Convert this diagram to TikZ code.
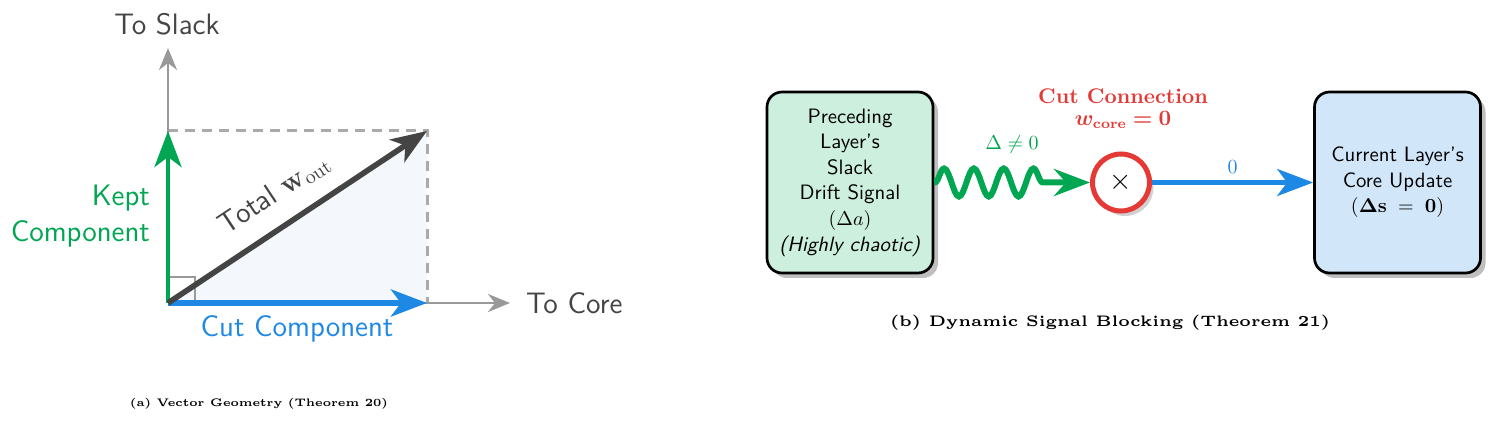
\documentclass[tikz,border=0pt]{standalone}
\usepackage{amsmath,bm}
\usetikzlibrary{arrows.meta,decorations.pathmorphing,shadows}
\definecolor{cgreen}{HTML}{00A651}
\definecolor{cblue}{HTML}{1E88E5}
\definecolor{cred}{HTML}{E53935}
\definecolor{cdark}{HTML}{444444}
\definecolor{caxis}{HTML}{999999}
\definecolor{cdash}{HTML}{AAAAAA}
\definecolor{cmint}{HTML}{CDEFDE}
\definecolor{clblue}{HTML}{D2E6F9}
\definecolor{ctri}{HTML}{F4F8FD}
\begin{document}
\begin{tikzpicture}[x=0.5pt,y=-0.5pt,
  bigtip/.style={-{Stealth[length=18pt,width=13.5pt,inset=5pt]}},
  axisline/.style={caxis,line width=1.4pt,-{Stealth[length=11pt,width=9pt,inset=3.5pt]}},
  guide/.style={cdash,line width=1.5pt,dash pattern=on 5pt off 3.5pt},
  lbl/.style={font=\fontsize{14.8}{18}\selectfont\sffamily},
  boxtxt/.style={font=\fontsize{10.4}{12.8}\selectfont\sffamily,align=center},
  card/.style={draw=black,line width=1.35pt,rounded corners=7.5pt,minimum width=83pt,minimum height=90.5pt,
    drop shadow={shadow xshift=2.5pt,shadow yshift=-2.5pt,fill=black!25,opacity=1}},
  capnode/.style={inner sep=0pt}
]
\useasboundingbox (0,0) rectangle (1499,422);
% ---------- (a) vector geometry ----------
\coordinate (O) at (168,303);
\coordinate (Ytip) at (168,48);
\coordinate (Xtip) at (510,303);
\coordinate (K) at (168,131);
\coordinate (C) at (427,303);
\coordinate (T) at (427,131);
\fill[ctri] (O) -- (C) -- (T) -- cycle;
\draw[blue!8,line width=0.4pt] (O) -- (T);
\draw[guide] (K) -- (T) -- (C);
\draw[axisline] (O) -- (Ytip);
\draw[axisline] (O) -- (Xtip);
\draw[caxis,line width=1.3pt] (168,277) -- (195,277) -- (195,303);
\draw[cblue,line width=3pt,bigtip] (O) -- (C);
\draw[cgreen,line width=2.4pt,bigtip] (O) -- (K);
\draw[cdark,line width=2.8pt,bigtip] (O) -- node[lbl,sloped,above=5pt,pos=0.48,text=cdark] (totlbl) {Total $\mathbf{w}_{\mathrm{out}}$} (T);
\node[lbl,text=cdark] (slack) at (167,24) {To Slack};
\node[lbl,text=cdark,anchor=west] (core) at (519,303) {To Core};
\node[lbl,text=cgreen,align=right,anchor=east] (kept) at (157,216) {Kept\\Component};
\node[lbl,text=cblue] (cut) at (297,329) {Cut Component};
\node[capnode] (capa) at (259,404) {\resizebox{129pt}{!}{\fontsize{5}{6}\selectfont\bfseries (a) Vector Geometry (Theorem 20)}};
% ---------- (b) signal blocking ----------
\node[card,fill=cmint,boxtxt] (prev) at (850,182.5) {Preceding\\Layer's\\Slack\\Drift Signal\\$(\Delta a)$\\\textit{(Highly chaotic)}};
\node[card,fill=clblue,boxtxt] (cur) at (1397.5,182.5) {Current Layer's\\Core Update\\$(\bm{\Delta}\mathbf{s}\;=\;\mathbf{0})$};
\node[circle,draw=cred,line width=2.5pt,fill=white,minimum size=28.5pt,inner sep=0pt,
  drop shadow={shadow xshift=2pt,shadow yshift=-2.5pt,fill=black!18,opacity=1},
  font=\fontsize{14}{16}\selectfont] (cutc) at (1121,182.5) {$\times$};
\draw[cgreen,line width=3pt,decorate,
  decoration={snake,amplitude=7pt,segment length=14.9pt,pre length=0.2pt,post length=17.5pt},
  -{Stealth[length=18pt,width=13.5pt,inset=6pt]}] (prev.east) -- (cutc.west);
\draw[cblue,line width=2.5pt,-{Stealth[length=18pt,width=13.5pt,inset=5pt]}] (cutc.east) -- node[above,text=cblue,font=\fontsize{10.4}{12}\selectfont] (zero) {$0$} (cur.west);
\node[text=cgreen,font=\fontsize{10.4}{12}\selectfont] (neq) at (1012,145) {$\Delta \neq 0$};
\node[text=cred,font=\fontsize{10.6}{13}\selectfont\bfseries] (cutlbl) at (1123,96) {Cut Connection};
\node[text=cred,font=\fontsize{10.6}{13}\selectfont] (wlbl) at (1123,120) {$\bm{w}_{\mathbf{core}} \bm{=} \bm{0}$};
\node[capnode] (capb) at (1110,323) {\resizebox{220pt}{!}{\fontsize{5}{6}\selectfont\bfseries (b) Dynamic Signal Blocking (Theorem 21)}};
\end{tikzpicture}
\end{document}
